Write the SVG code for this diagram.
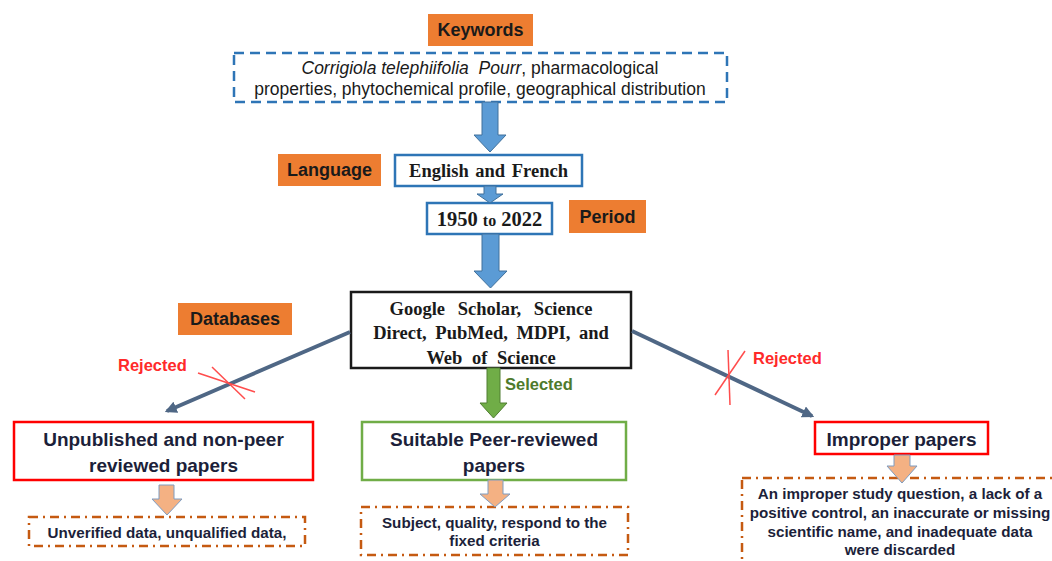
<svg xmlns="http://www.w3.org/2000/svg" width="1052" height="561" viewBox="0 0 1052 561">
  <style>
    .tag { fill: #ed7d31; }
    .tag-text { font-family: "Liberation Sans", Arial, sans-serif; font-weight: bold; font-size: 18px; fill: #1a1a1a; text-anchor: middle; }
    .blue-box { fill: #ffffff; stroke: #2e75b6; stroke-width: 2.5; }
    .serif { font-family: "Liberation Serif", "Times New Roman", serif; font-weight: bold; fill: #1a1a1a; text-anchor: middle; }
    .kw { font-family: "Liberation Sans", Arial, sans-serif; font-size: 17.5px; fill: #1a1a1a; text-anchor: middle; }
    .blue-arrow { fill: #5b9bd5; stroke: #41719c; stroke-width: 1; }
    .green-arrow { fill: #70ad47; stroke: #507e32; stroke-width: 1; }
    .orange-arrow { fill: #f4b183; stroke: #7f9cc0; stroke-width: 1; }
    .result { fill: #ffffff; stroke-width: 2.5; }
    .result-text { font-family: "Liberation Sans", Arial, sans-serif; font-weight: bold; font-size: 19px; fill: #1c1f3a; text-anchor: middle; }
    .note { fill: #ffffff; stroke: #c55a11; stroke-width: 2.5; stroke-dasharray: 9 5 2 5; }
    .note-text { font-family: "Liberation Sans", Arial, sans-serif; font-weight: bold; font-size: 15.2px; fill: #1c1f3a; text-anchor: middle; }
    .link { fill: none; stroke: #4f6785; stroke-width: 4; }
    .cross { stroke: #ff4d4d; stroke-width: 1.5; }
    .rejected { font-family: "Liberation Sans", Arial, sans-serif; font-weight: bold; font-size: 16.5px; fill: #ff2a2a; }
    .selected { font-family: "Liberation Sans", Arial, sans-serif; font-weight: bold; font-size: 16.5px; fill: #4e7a2c; }
  </style>
  <defs>
    <marker id="head" viewBox="0 0 10 10" refX="8" refY="5" markerWidth="3" markerHeight="3" orient="auto" markerUnits="strokeWidth">
      <path d="M0,0 L10,5 L0,10 z" fill="#4f6785"/>
    </marker>
  </defs>

  <!-- category tags -->
  <g id="tag-keywords">
    <rect class="tag" x="428" y="14" width="105" height="32"/>
    <text class="tag-text" x="480.5" y="36">Keywords</text>
  </g>
  <g id="tag-language">
    <rect class="tag" x="278" y="154" width="103" height="32"/>
    <text class="tag-text" x="329.5" y="176">Language</text>
  </g>
  <g id="tag-period">
    <rect class="tag" x="569" y="200" width="77" height="33"/>
    <text class="tag-text" x="607.5" y="223">Period</text>
  </g>
  <g id="tag-databases">
    <rect class="tag" x="178" y="303" width="114" height="32"/>
    <text class="tag-text" x="235" y="325">Databases</text>
  </g>

  <!-- search criteria -->
  <g id="keywords">
    <rect x="234" y="53" width="493" height="49" fill="#ffffff" stroke="#2e75b6" stroke-width="2.5" stroke-dasharray="10 6"/>
    <text class="kw" x="480" y="74"><tspan font-style="italic">Corrigiola telephiifolia&#160; Pourr</tspan>, pharmacological</text>
    <text class="kw" x="480" y="95">properties, phytochemical profile, geographical distribution</text>
  </g>
  <g id="language">
    <rect class="blue-box" x="395" y="155" width="187" height="31"/>
    <text class="serif" x="488.5" y="177" font-size="18.5" word-spacing="2">English and French</text>
  </g>
  <g id="period">
    <rect class="blue-box" x="427" y="203" width="125" height="31"/>
    <text class="serif" x="489.5" y="225.5" font-size="20.5">1950 <tspan font-size="16">to</tspan> 2022</text>
  </g>
  <g id="databases">
    <rect x="351" y="292" width="280" height="76" fill="#ffffff" stroke="#1a1a1a" stroke-width="2.5"/>
    <text class="serif" x="491" y="315" font-size="18.5" word-spacing="8">Google Scholar, Science</text>
    <text class="serif" x="491" y="339" font-size="18.5" word-spacing="4">Direct, PubMed, MDPI, and</text>
    <text class="serif" x="491" y="364" font-size="18.5" word-spacing="5">Web of Science</text>
  </g>

  <!-- outcomes -->
  <g id="unpublished">
    <rect class="result" x="14" y="422" width="299" height="58" stroke="#ff0000"/>
    <text class="result-text" x="163.5" y="446">Unpublished and non-peer</text>
    <text class="result-text" x="163.5" y="472">reviewed papers</text>
  </g>
  <g id="suitable">
    <rect class="result" x="362" y="422" width="264" height="58" stroke="#70ad47"/>
    <text class="result-text" x="494" y="446">Suitable Peer-reviewed</text>
    <text class="result-text" x="494" y="472">papers</text>
  </g>
  <g id="improper">
    <rect class="result" x="815" y="422" width="173" height="32" stroke="#ff0000"/>
    <text class="result-text" x="901.5" y="446">Improper papers</text>
  </g>

  <!-- outcome details -->
  <g id="unverified-note">
    <rect class="note" x="29" y="517" width="276" height="29"/>
    <text class="note-text" x="167" y="537.5">Unverified data, unqualified data,</text>
  </g>
  <g id="criteria-note">
    <rect class="note" x="361" y="507" width="267" height="48"/>
    <text class="note-text" x="494.5" y="527.5">Subject, quality, respond to the</text>
    <text class="note-text" x="494.5" y="545.5">fixed criteria</text>
  </g>
  <g id="discarded-note">
    <rect class="note" x="742" y="478" width="320" height="95"/>
    <text class="note-text" x="900" y="498.5">An improper study question, a lack of a</text>
    <text class="note-text" x="900" y="517.5">positive control, an inaccurate or missing</text>
    <text class="note-text" x="900" y="536.5">scientific name, and inadequate data</text>
    <text class="note-text" x="900" y="555">were discarded</text>
  </g>

  <!-- connectors -->
  <g id="connectors">
    <polygon class="blue-arrow" points="482,102 498,102 498,135 506,135 490,152 474,135 482,135"/>
    <polygon class="blue-arrow" points="484,186 496,186 496,194 503,194 490,203 477,194 484,194"/>
    <polygon class="blue-arrow" points="482,234 499,234 499,271 507,271 490.5,288 474,271 482,271"/>
    <polygon class="green-arrow" points="487,368 500,368 500,403 507,403 493.5,418 480,403 487,403"/>
    <polygon class="orange-arrow" points="159,485 174,485 174,499 182,499 167,515 152,499 159,499"/>
    <polygon class="orange-arrow" points="488,480 503,480 503,494 510,494 495,507 480,494 488,494"/>
    <polygon class="orange-arrow" points="894,455 910,455 910,466 917,466 902,483 887,466 894,466"/>

    <line class="link" x1="350" y1="332" x2="167" y2="411" marker-end="url(#head)"/>
    <line class="link" x1="632" y1="331" x2="812" y2="416" marker-end="url(#head)"/>

    <line class="cross" x1="198" y1="373" x2="255" y2="392"/>
    <line class="cross" x1="212" y1="367" x2="245" y2="399"/>
    <line class="cross" x1="715" y1="395" x2="745" y2="351"/>
    <line class="cross" x1="728" y1="350" x2="730" y2="405"/>

    <text class="rejected" x="118" y="371">Rejected</text>
    <text class="rejected" x="753" y="364">Rejected</text>
    <text class="selected" x="505" y="390">Selected</text>
  </g>
</svg>
